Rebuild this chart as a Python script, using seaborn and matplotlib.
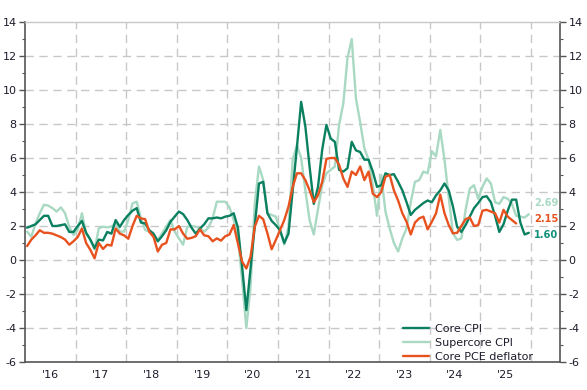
import numpy as np
import pandas as pd
import matplotlib
matplotlib.use("Agg")
import matplotlib.pyplot as plt
import matplotlib.transforms as mtransforms
import seaborn as sns

# monthly values, Jan 2016 onwards
core_cpi = [1.9, 2.0, 2.1, 2.35, 2.6, 2.6, 2.0, 2.0, 2.05, 2.1, 1.65, 1.65,
            2.0, 2.3, 1.6, 1.2, 0.7, 1.2, 1.15, 1.65, 1.55, 2.35, 1.95, 2.35,
            2.65, 2.9, 3.05, 2.2, 2.15, 1.75, 1.55, 1.1, 1.4, 1.75, 2.25, 2.55,
            2.85, 2.7, 2.35, 1.9, 1.55, 1.85, 2.1, 2.45, 2.45, 2.5, 2.45, 2.55,
            2.6, 2.75, 1.9, -0.4, -2.95, -0.5, 2.0, 4.5, 4.6, 2.75, 2.3, 2.05,
            1.75, 1.0, 1.55, 4.1, 6.65, 9.3, 7.85, 5.5, 3.3, 4.3, 6.5, 7.95,
            7.15, 6.95, 5.3, 5.2, 5.4, 6.95, 6.45, 6.35, 5.9, 5.9, 5.2, 4.3,
            4.4, 5.1, 5.0, 5.05, 4.6, 4.1, 3.4, 2.65, 2.95, 3.15, 3.35, 3.5,
            3.4, 3.8, 4.1, 4.5, 4.1, 3.15, 1.95, 1.65, 2.05, 2.55, 3.05, 3.35,
            3.7, 3.75, 3.4, 2.6, 1.65, 2.1, 2.9, 3.55, 3.55, 2.2, 1.5, 1.6]

supercore = [1.67, 1.37, 2.15, 2.75, 3.25, 3.2, 3.05, 2.85, 3.1, 2.75, 1.95, 1.47,
             1.76, 2.75, 1.57, 1.18, 0.6, 1.86, 1.96, 1.92, 1.96, 2.15, 1.67, 1.67,
             2.35, 3.33, 3.43, 2.45, 1.76, 1.67, 1.47, 1.18, 1.57, 1.96, 2.35, 1.67,
             1.27, 0.9, 1.96, 2.0, 1.96, 1.86, 1.67, 1.9, 2.45, 3.43, 3.43, 3.43,
             3.1, 2.35, 1.37, -1.2, -4.0, -1.57, 3.33, 5.5, 4.7, 2.75, 2.65, 2.55,
             1.76, 0.9, 1.96, 5.9, 6.75, 6.0, 4.1, 2.35, 1.5, 3.0, 4.4, 5.1,
             5.3, 5.5, 7.95, 9.2, 11.9, 13.0, 9.5, 8.1, 6.57, 5.9, 4.4, 2.6,
             5.0, 2.85, 1.86, 1.0, 0.5, 1.27, 1.86, 3.4, 4.6, 4.7, 5.2, 5.1,
             6.4, 6.1, 7.65, 5.9, 3.7, 1.57, 1.18, 1.27, 2.94, 4.2, 4.4, 3.6,
             4.3, 4.8, 4.5, 3.4, 3.3, 3.7, 3.6, 3.3, 2.6, 2.55, 2.5, 2.69]

core_pce = [0.82, 1.2, 1.45, 1.75, 1.6, 1.6, 1.55, 1.45, 1.35, 1.2, 0.9, 1.1,
            1.35, 1.85, 1.0, 0.6, 0.1, 1.0, 0.65, 0.9, 0.85, 1.85, 1.55, 1.45,
            1.25, 2.0, 2.6, 2.45, 2.4, 1.65, 1.35, 0.5, 0.9, 1.0, 1.8, 1.8,
            2.0, 1.55, 1.25, 1.3, 1.4, 1.8, 1.45, 1.4, 1.1, 1.27, 1.14, 1.4,
            1.5, 2.06, 0.98, -0.1, -0.5, 0.2, 1.96, 2.6, 2.4, 1.57, 0.63, 1.18,
            1.76, 2.35, 3.14, 4.3, 5.1, 5.1, 4.7, 4.1, 3.4, 3.8, 4.6, 5.95,
            6.0, 6.0, 5.6, 4.8, 4.3, 5.2, 5.0, 5.5, 4.7, 5.2, 3.9, 3.7,
            4.0, 4.9, 5.0, 4.1, 3.5, 2.75, 2.25, 1.5, 2.2, 2.45, 2.55, 1.8,
            2.25, 2.75, 3.85, 2.75, 2.06, 1.57, 1.6, 2.0, 2.4, 2.5, 2.0, 2.05,
            2.9, 2.95, 2.85, 2.75, 2.2, 2.95, 2.55, 2.35, 2.15]

series_names = ["Core CPI", "Supercore CPI", "Core PCE deflator"]
year_labels = ["'16", "'17", "'18", "'19", "'20", "'21", "'22", "'23", "'24", "'25"]

colors = {"Core CPI": "#0a8060", "Supercore CPI": "#a9d9c3", "Core PCE deflator": "#e8521e"}
label_colors = {"Core CPI": "#10907a", "Supercore CPI": "#a9d9c3", "Core PCE deflator": "#e8521e"}

frames = []
for name, vals in zip(series_names, [core_cpi, supercore, core_pce]):
    frames.append(pd.DataFrame({"month": np.arange(len(vals)), "value": vals, "series": name}))
df = pd.concat(frames, ignore_index=True)

sns.set_style("white")
plt.rcParams["font.family"] = ["DejaVu Sans"]
plt.rcParams["axes.unicode_minus"] = False

fig = plt.figure(figsize=(5.87, 3.90), dpi=100)
ax = fig.add_axes([25 / 587, 1 - 362 / 390, 535 / 587, 340 / 390])

sns.lineplot(data=df, x="month", y="value", hue="series", hue_order=series_names,
             palette=colors, linewidth=1.7, ax=ax)
for line, z in zip(ax.get_lines()[:3], [3, 2, 4]):
    line.set_zorder(z)

ax.set_xlim(-0.5, 126.4)
ax.set_ylim(-6, 14)
ax.set_xlabel("")
ax.set_ylabel("")

grid_col = "#c8c8c8"
spine_col = "#555555"
txt_col = "#1c1c2c"

# x axis: year boundaries + quarterly ticks, labels mid-year
bounds = np.arange(-0.5, 120, 12)
ax.set_xticks(bounds)
ax.set_xticks(np.arange(-0.5, 126, 3), minor=True)
ax.set_xticklabels([])
ax.tick_params(axis="x", which="major", length=5, width=1, color=spine_col, direction="out")
ax.tick_params(axis="x", which="minor", length=2.5, width=0.8, color=spine_col, direction="out")
trans = mtransforms.blended_transform_factory(ax.transData, ax.transAxes)
for k, lab in enumerate(year_labels):
    ax.text(5.5 + 12 * k, -0.038, lab, transform=trans, ha="center", va="center",
            fontsize=8, color=txt_col)

yt = np.arange(-6, 15, 2)
ax.set_yticks(yt)
ax.set_yticks(np.arange(-5, 14, 2), minor=True)
ax.set_yticklabels([str(v) for v in yt], fontsize=8, color=txt_col)
ax.tick_params(axis="y", which="major", length=4, width=1, color=spine_col, pad=2)
ax.tick_params(axis="y", which="minor", length=2, width=0.8, color=spine_col)

ax.grid(False)
for v in yt[1:-1]:
    ax.axhline(v, color=grid_col, lw=1, ls=(0, (6, 4)), zorder=0)
for b in bounds[1:]:
    ax.axvline(b, color=grid_col, lw=1, ls=(0, (6, 4)), zorder=0)

for s in ["left", "bottom", "right"]:
    ax.spines[s].set_color(spine_col)
    ax.spines[s].set_linewidth(1.2)
ax.spines["top"].set_color(grid_col)
ax.spines["top"].set_linewidth(1)

ax2 = ax.twinx()
ax2.set_ylim(-6, 14)
ax2.set_yticks(yt)
ax2.set_yticks(np.arange(-5, 14, 2), minor=True)
ax2.set_yticklabels([str(v) for v in yt], fontsize=8, color=txt_col)
ax2.tick_params(axis="y", which="major", length=4, width=1, color=spine_col, pad=2)
ax2.tick_params(axis="y", which="minor", length=2, width=0.8, color=spine_col)
for s in ax2.spines.values():
    s.set_visible(False)

# end-value labels
last_vals = {"Supercore CPI": supercore[-1], "Core PCE deflator": core_pce[-1], "Core CPI": core_cpi[-1]}
label_y = {"Supercore CPI": 3.35, "Core PCE deflator": 2.4, "Core CPI": 1.45}
for name, v in last_vals.items():
    ax.text(120.3, label_y[name], f"{v:.2f}", color=label_colors[name], fontsize=7.1,
            fontweight="bold", ha="left", va="center")

leg = ax.legend(loc="lower right", bbox_to_anchor=(0.957, -0.012), frameon=False,
                fontsize=8, handlelength=2.3, handletextpad=0.5, labelspacing=0.35,
                borderaxespad=0)
for t in leg.get_texts():
    t.set_color(txt_col)

fig.savefig("out.png", dpi=100)
